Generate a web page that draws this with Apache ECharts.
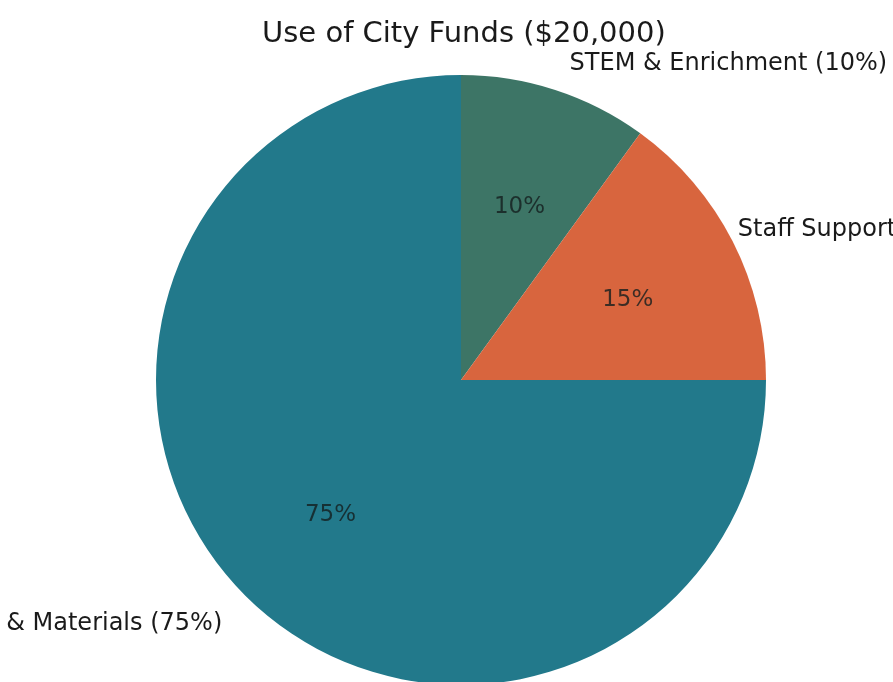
<!DOCTYPE html>
<html>
<head>
<meta charset="utf-8">
<script src="https://cdn.jsdelivr.net/npm/echarts@6/dist/echarts.min.js"></script>
<style>
html,body{margin:0;padding:0;background:#fff;}
#chart{width:893px;height:682px;}
</style>
</head>
<body>
<div id="chart"></div>
<script>
var titleText = "Use of City Funds ($20,000)";
var categories = ["STEM & Enrichment", "Staff Support", "Supplies & Materials"];
var values = [10, 15, 75];
var colors = ["#3d7566", "#d8653e", "#22798b"];

var chart = echarts.init(document.getElementById('chart'), null, {renderer: 'canvas'});
var data = categories.map(function (c, i) {
  return { name: c, value: values[i], itemStyle: { color: colors[i] } };
});
var FONT = "DejaVu Sans";
var center = [461, 380];
var R = 305;

chart.setOption({
  backgroundColor: '#ffffff',
  animation: false,
  title: {
    text: titleText,
    left: 257,
    top: 15,
    textStyle: { fontFamily: FONT, fontSize: 29, fontWeight: 'normal', color: '#1a1a1a' }
  },
  series: [
    {
      type: 'pie',
      center: center,
      radius: [0, R],
      startAngle: 90,
      clockwise: true,
      avoidLabelOverlap: false,
      data: data,
      itemStyle: { borderWidth: 0 },
      emphasis: { disabled: true },
      label: {
        show: true,
        position: 'outside',
        overflow: 'none',
        fontFamily: FONT,
        fontSize: 24,
        color: '#1a1a1a',
        distanceToLabelLine: 5,
        formatter: function (p) { return p.name + ' (' + p.value + '%)'; }
      },
      labelLine: { show: false, length: 27, length2: 0 },
      labelLayout: function (p) {
        if (p.dataIndex === 0) return { dx: 1 };
        if (p.dataIndex === 1) return { dx: -24 };
        if (p.dataIndex === 2) return { dx: 1, dy: 9 };
        return {};
      }
    },
    {
      type: 'pie',
      center: center,
      radius: [R * 0.2, R],
      startAngle: 90,
      clockwise: true,
      silent: true,
      data: data.map(function (d) { return { name: d.name, value: d.value }; }),
      itemStyle: { color: 'rgba(0,0,0,0)', borderWidth: 0 },
      label: {
        show: true,
        position: 'inside',
        fontFamily: FONT,
        fontSize: 23,
        color: 'rgba(20,30,30,0.8)',
        formatter: function (p) { return p.value + '%'; }
      },
      labelLine: { show: false },
      labelLayout: function (p) { return { dx: 1, dy: 4 }; }
    }
  ]
});
</script>
</body>
</html>
